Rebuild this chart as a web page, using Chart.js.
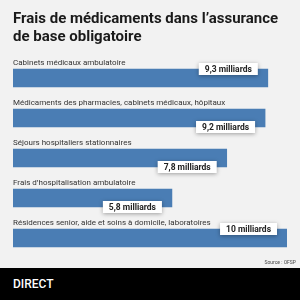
<!DOCTYPE html>
<html>
<head>
<meta charset="utf-8">
<script src="https://cdn.jsdelivr.net/npm/chart.js@4"></script>
<style>
  html, body { margin: 0; padding: 0; }
  body { width: 300px; height: 300px; background: #f2f2f2; position: relative; overflow: hidden; font-family: Roboto, 'Noto Sans', sans-serif; }
  .title { position: absolute; left: 13px; top: 9px; font-size: 15px; font-weight: 700; line-height: 18px; color: #1a1a1a; z-index: 2; }
  .chart { position: absolute; left: 0; top: 0; width: 300px; height: 268px; }
  .source { position: absolute; right: 4px; top: 259px; font-size: 5px; color: #444; }
  .footer { position: absolute; left: 0; top: 268px; width: 300px; height: 32px; background: #000; }
  .footer span { position: absolute; left: 13px; top: 9px; color: #fff; font-size: 12px; font-weight: 500; }
</style>
</head>
<body>
<div class="title">Frais de médicaments dans l’assurance<br>de base obligatoire</div>
<div class="chart"><canvas id="costChart"></canvas></div>
<div class="source">Source : OFSP</div>
<div class="footer"><span>DIRECT</span></div>
<script>
const categories = [
  'Cabinets médicaux ambulatoire',
  'Médicaments des pharmacies, cabinets médicaux, hôpitaux',
  'Séjours hospitaliers stationnaires',
  'Frais d’hospitalisation ambulatoire',
  'Résidences senior, aide et soins à domicile, laboratoires'
];
const values = [9.3, 9.2, 7.8, 5.8, 10];
const valueLabels = ['9,3 milliards', '9,2 milliards', '7,8 milliards', '5,8 milliards', '10 milliards'];
const labelSide = ['top', 'bottom', 'bottom', 'bottom', 'top'];

const labelsPlugin = {
  id: 'barLabels',
  afterDatasetsDraw(chart) {
    const ctx = chart.ctx;
    const meta = chart.getDatasetMeta(0);
    ctx.save();
    meta.data.forEach((bar, i) => {
      const half = bar.height / 2;
      // category text above the bar
      ctx.font = '8px Roboto, "Noto Sans", sans-serif';
      ctx.fillStyle = '#333';
      ctx.textAlign = 'left';
      ctx.textBaseline = 'bottom';
      ctx.fillText(categories[i], bar.base, bar.y - half - 2);

      // value box
      ctx.font = 'bold 8.5px Roboto, "Noto Sans", sans-serif';
      const w = ctx.measureText(valueLabels[i]).width + 12;
      const h = 12;
      const right = bar.x - 10;
      const cy = labelSide[i] === 'top' ? bar.y - half : bar.y + half;
      ctx.shadowColor = 'rgba(0,0,0,0.35)';
      ctx.shadowBlur = 4;
      ctx.shadowOffsetY = 1;
      ctx.fillStyle = '#fff';
      ctx.fillRect(right - w, cy - h / 2, w, h);
      ctx.shadowColor = 'transparent';
      ctx.fillStyle = '#222';
      ctx.textAlign = 'center';
      ctx.textBaseline = 'middle';
      ctx.fillText(valueLabels[i], right - w / 2, cy + 0.5);
    });
    ctx.restore();
  }
};

new Chart(document.getElementById('costChart'), {
  type: 'bar',
  data: {
    labels: categories,
    datasets: [{
      data: values,
      backgroundColor: '#4a7db4',
      borderWidth: 0,
      barThickness: 18
    }]
  },
  options: {
    indexAxis: 'y',
    responsive: true,
    maintainAspectRatio: false,
    animation: false,
    layout: { padding: { top: 58, bottom: 10, left: 13, right: 13 } },
    plugins: { legend: { display: false }, tooltip: { enabled: false } },
    scales: {
      x: { display: false, min: 0, max: 10 },
      y: { display: false }
    }
  },
  plugins: [labelsPlugin]
});
</script>
</body>
</html>
